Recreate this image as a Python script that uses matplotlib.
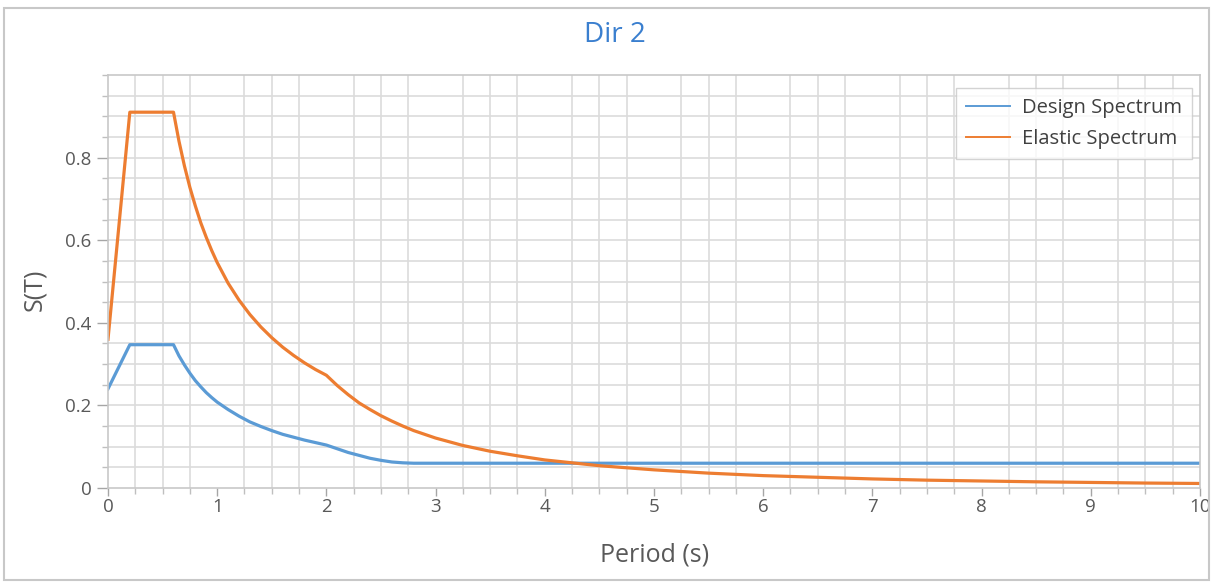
import matplotlib
matplotlib.use("Agg")
import matplotlib.pyplot as plt
from matplotlib.patches import Rectangle
from matplotlib.ticker import MultipleLocator
import numpy as np

plt.rcParams['font.family'] = ['Open Sans', 'DejaVu Sans']

# values
period = [0, 0.2, 0.6, 0.65, 0.7, 0.75, 0.8, 0.85, 0.9, 0.95, 1.0, 1.1, 1.2, 1.3,
          1.4, 1.5, 1.6, 1.7, 1.8, 1.9, 2.0, 2.1, 2.2, 2.3, 2.4, 2.5, 2.6, 2.7,
          2.8, 2.9, 3.0, 3.25, 3.5, 3.75, 4.0, 4.5, 5.0, 5.5, 6.0, 6.5, 7.0, 7.5,
          8.0, 8.5, 9.0, 9.5, 10.0]
elastic = [0.36, 0.91, 0.91, 0.84, 0.78, 0.728, 0.683, 0.642, 0.607, 0.575, 0.546,
           0.496, 0.455, 0.42, 0.39, 0.364, 0.341, 0.321, 0.303, 0.287, 0.273,
           0.248, 0.226, 0.206, 0.19, 0.175, 0.162, 0.15, 0.139, 0.13, 0.121,
           0.103, 0.089, 0.078, 0.068, 0.054, 0.044, 0.036, 0.030, 0.026, 0.022,
           0.019, 0.017, 0.015, 0.0135, 0.012, 0.011]
design = [0.24, 0.347, 0.347, 0.32, 0.298, 0.278, 0.26, 0.245, 0.231, 0.219, 0.208,
          0.19, 0.174, 0.16, 0.149, 0.139, 0.13, 0.123, 0.116, 0.11, 0.104,
          0.095, 0.086, 0.079, 0.072, 0.067, 0.063, 0.061, 0.06, 0.06, 0.06,
          0.06, 0.06, 0.06, 0.06, 0.06, 0.06, 0.06, 0.06, 0.06, 0.06, 0.06,
          0.06, 0.06, 0.06, 0.06, 0.06]

x_ticks = list(range(0, 11))
y_ticks = [0, 0.2, 0.4, 0.6, 0.8]
y_ticklabels = ['0', '0.2', '0.4', '0.6', '0.8']

blue = '#5b9bd5'
orange = '#ed7d31'
grid_col = '#dcdcdc'
txt_col = '#595959'

fig = plt.figure(figsize=(12.12, 5.82), dpi=100)
ax = fig.add_axes([0.0891, 0.1615, 0.9009, 0.7096])

ax.plot(period, design, color=blue, lw=2.3, label='Design Spectrum', solid_joinstyle='round')
ax.plot(period, elastic, color=orange, lw=2.3, label='Elastic Spectrum', solid_joinstyle='round')

ax.set_xlim(0, 10)
ax.set_ylim(0, 1.0)

ax.set_xticks(x_ticks)
ax.set_xticklabels([str(v) for v in x_ticks])
ax.xaxis.set_minor_locator(MultipleLocator(0.25))
ax.set_yticks(y_ticks)
ax.set_yticklabels(y_ticklabels)
ax.yaxis.set_minor_locator(MultipleLocator(0.05))

# grid: quarter lines in x (not on whole numbers), every 0.05 in y
for xv in np.arange(0.25, 10, 0.25):
    if abs(xv - round(xv)) > 1e-6:
        ax.axvline(xv, color=grid_col, lw=1.2, zorder=0)
for yv in np.arange(0.05, 1.0, 0.05):
    ax.axhline(yv, color=grid_col, lw=1.2, zorder=0)

ax.tick_params(axis='x', which='major', length=6, width=1, color='#a6a6a6',
               labelsize=13.5, labelcolor=txt_col, pad=1)
ax.tick_params(axis='y', which='major', length=8, width=1, color='#a6a6a6',
               labelsize=13.5, labelcolor=txt_col, pad=4)
ax.tick_params(axis='both', which='minor', length=4, width=1, color='#bfbfbf')
for sp in ax.spines.values():
    sp.set_color('#c8c8c8')
    sp.set_linewidth(1.2)

leg = ax.legend(loc='upper right', bbox_to_anchor=(0.993, 0.968), borderaxespad=0,
                fontsize=14.5, frameon=True, fancybox=False, handlelength=2.2,
                handletextpad=0.6, borderpad=0.5, labelspacing=0.55)
leg.get_frame().set_edgecolor('#c8c8c8')
leg.get_frame().set_linewidth(1.0)
for line in leg.get_lines():
    line.set_linewidth(1.4)
for t in leg.get_texts():
    t.set_color('#404040')

fig.text(0.507, 0.94, 'Dir 2', color='#3a7fcf', fontsize=20, ha='center', va='center')
fig.text(0.029, 0.502, 'S(T)', color=txt_col, fontsize=18, ha='center', va='center',
         rotation=90)
fig.text(0.540, 0.046, 'Period (s)', color=txt_col, fontsize=18, ha='center', va='center')

# outer panel frame of the screenshot
fig.patches.append(Rectangle((4 / 1212, 2 / 582), 1205 / 1212, 572 / 582,
                             transform=fig.transFigure, fill=False,
                             edgecolor='#c8c8c8', lw=1.5))

fig.savefig('out.png', dpi=100)
